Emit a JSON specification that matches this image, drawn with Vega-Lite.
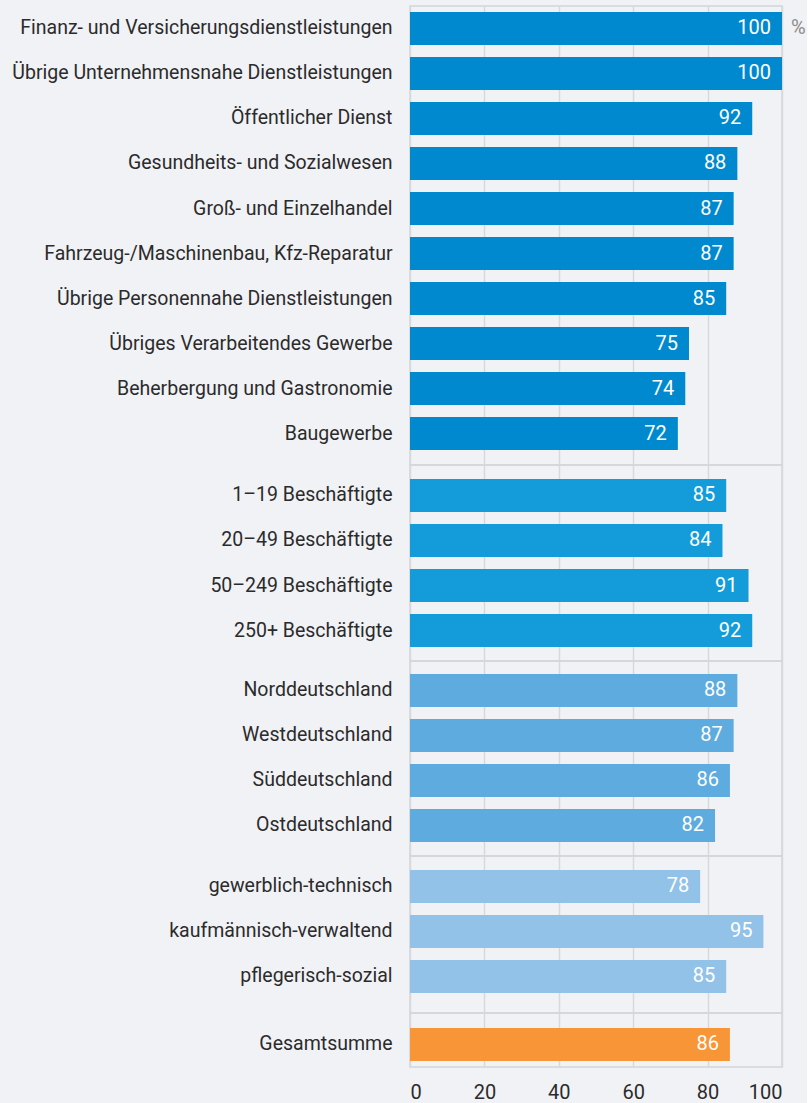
{
  "$schema": "https://vega.github.io/schema/vega-lite/v6.json",
  "background": "#f1f2f6",
  "padding": {"left": 11, "top": 5, "right": 0, "bottom": 0},
  "bounds": "flush",
  "data": {"values": [
    {"cat": "Finanz- und Versicherungsdienstleistungen", "v": 100, "grp": "Branche", "unit": "%"},
    {"cat": "Übrige Unternehmensnahe Dienstleistungen", "v": 100, "grp": "Branche", "unit": ""},
    {"cat": "Öffentlicher Dienst", "v": 92, "grp": "Branche", "unit": ""},
    {"cat": "Gesundheits- und Sozialwesen", "v": 88, "grp": "Branche", "unit": ""},
    {"cat": "Groß- und Einzelhandel", "v": 87, "grp": "Branche", "unit": ""},
    {"cat": "Fahrzeug-/Maschinenbau, Kfz-Reparatur", "v": 87, "grp": "Branche", "unit": ""},
    {"cat": "Übrige Personennahe Dienstleistungen", "v": 85, "grp": "Branche", "unit": ""},
    {"cat": "Übriges Verarbeitendes Gewerbe", "v": 75, "grp": "Branche", "unit": ""},
    {"cat": "Beherbergung und Gastronomie", "v": 74, "grp": "Branche", "unit": ""},
    {"cat": "Baugewerbe", "v": 72, "grp": "Branche", "unit": ""},
    {"cat": "1–19 Beschäftigte", "v": 85, "grp": "Größe", "unit": ""},
    {"cat": "20–49 Beschäftigte", "v": 84, "grp": "Größe", "unit": ""},
    {"cat": "50–249 Beschäftigte", "v": 91, "grp": "Größe", "unit": ""},
    {"cat": "250+ Beschäftigte", "v": 92, "grp": "Größe", "unit": ""},
    {"cat": "Norddeutschland", "v": 88, "grp": "Region", "unit": ""},
    {"cat": "Westdeutschland", "v": 87, "grp": "Region", "unit": ""},
    {"cat": "Süddeutschland", "v": 86, "grp": "Region", "unit": ""},
    {"cat": "Ostdeutschland", "v": 82, "grp": "Region", "unit": ""},
    {"cat": "gewerblich-technisch", "v": 78, "grp": "Tätigkeit", "unit": ""},
    {"cat": "kaufmännisch-verwaltend", "v": 95, "grp": "Tätigkeit", "unit": ""},
    {"cat": "pflegerisch-sozial", "v": 85, "grp": "Tätigkeit", "unit": ""},
    {"cat": "Gesamtsumme", "v": 86, "grp": "Gesamt", "unit": ""}
  ]},
  "spacing": 0,
  "resolve": {"scale": {"y": "independent"}},
  "vconcat": [
    {
      "transform": [{"filter": "datum.grp === 'Branche'"}],
      "width": 372,
      "height": 459,
      "encoding": {
        "x": {"field": "v", "type": "quantitative", "scale": {"domain": [0, 100], "nice": false}, "axis": {"values": [0, 20, 40, 60, 80, 100], "labels": false}},
        "y": {"field": "cat", "type": "nominal", "sort": null, "scale": {"paddingInner": 0.2667, "paddingOuter": 0.2333, "align": 0.2857}}
      },
      "layer": [
        {"mark": {"type": "bar", "color": "#0089cf"}},
        {"mark": {"type": "text", "align": "right", "baseline": "middle", "dx": -11, "color": "#ffffff", "fontSize": 20}, "encoding": {"text": {"field": "v", "type": "quantitative"}}},
        {"mark": {"type": "text", "align": "left", "baseline": "middle", "dx": 9, "color": "#8c8c8c", "fontSize": 20}, "encoding": {"text": {"field": "unit", "type": "nominal"}}}
      ]
    },
    {
      "transform": [{"filter": "datum.grp === 'Größe'"}],
      "width": 372,
      "height": 196,
      "encoding": {
        "x": {"field": "v", "type": "quantitative", "scale": {"domain": [0, 100], "nice": false}, "axis": {"values": [0, 20, 40, 60, 80, 100], "labels": false}},
        "y": {"field": "cat", "type": "nominal", "sort": null, "scale": {"paddingInner": 0.2667, "paddingOuter": 0.3111, "align": 0.5}}
      },
      "layer": [
        {"mark": {"type": "bar", "color": "#139cd9"}},
        {"mark": {"type": "text", "align": "right", "baseline": "middle", "dx": -11, "color": "#ffffff", "fontSize": 20}, "encoding": {"text": {"field": "v", "type": "quantitative"}}}
      ]
    },
    {
      "transform": [{"filter": "datum.grp === 'Region'"}],
      "width": 372,
      "height": 195,
      "encoding": {
        "x": {"field": "v", "type": "quantitative", "scale": {"domain": [0, 100], "nice": false}, "axis": {"values": [0, 20, 40, 60, 80, 100], "labels": false}},
        "y": {"field": "cat", "type": "nominal", "sort": null, "scale": {"paddingInner": 0.2667, "paddingOuter": 0.3, "align": 0.48}}
      },
      "layer": [
        {"mark": {"type": "bar", "color": "#5dabdf"}},
        {"mark": {"type": "text", "align": "right", "baseline": "middle", "dx": -11, "color": "#ffffff", "fontSize": 20}, "encoding": {"text": {"field": "v", "type": "quantitative"}}}
      ]
    },
    {
      "transform": [{"filter": "datum.grp === 'Tätigkeit'"}],
      "width": 372,
      "height": 157,
      "encoding": {
        "x": {"field": "v", "type": "quantitative", "scale": {"domain": [0, 100], "nice": false}, "axis": {"values": [0, 20, 40, 60, 80, 100], "labels": false}},
        "y": {"field": "cat", "type": "nominal", "sort": null, "scale": {"paddingInner": 0.2667, "paddingOuter": 0.3778, "align": 0.41}}
      },
      "layer": [
        {"mark": {"type": "bar", "color": "#93c2e8"}},
        {"mark": {"type": "text", "align": "right", "baseline": "middle", "dx": -11, "color": "#ffffff", "fontSize": 20}, "encoding": {"text": {"field": "v", "type": "quantitative"}}}
      ]
    },
    {
      "transform": [{"filter": "datum.grp === 'Gesamt'"}],
      "width": 372,
      "height": 54,
      "encoding": {
        "x": {"field": "v", "type": "quantitative", "scale": {"domain": [0, 100], "nice": false}, "axis": {"values": [0, 20, 40, 60, 80, 100], "labels": true}},
        "y": {"field": "cat", "type": "nominal", "sort": null, "scale": {"paddingInner": 0.2667, "paddingOuter": 0.2333, "align": 0.714}}
      },
      "layer": [
        {"mark": {"type": "bar", "color": "#f89637"}},
        {"mark": {"type": "text", "align": "right", "baseline": "middle", "dx": -11, "color": "#ffffff", "fontSize": 20}, "encoding": {"text": {"field": "v", "type": "quantitative"}}}
      ]
    }
  ],
  "config": {
    "font": "Roboto",
    "view": {"stroke": "#d4d5d9", "strokeWidth": 1.5},
    "axisX": {
      "title": null,
      "domain": false,
      "ticks": false,
      "grid": true,
      "gridColor": "#d8d9dd",
      "gridWidth": 1.5,
      "labelFontSize": 20,
      "labelColor": "#2b2b2b",
      "labelPadding": 15,
      "labelFont": "Roboto"
    },
    "axisY": {
      "title": null,
      "domain": false,
      "ticks": false,
      "grid": false,
      "labelFontSize": 19.5,
      "labelColor": "#2b2b2b",
      "labelPadding": 18,
      "labelFont": "Roboto",
      "labelLimit": 500
    }
  }
}
